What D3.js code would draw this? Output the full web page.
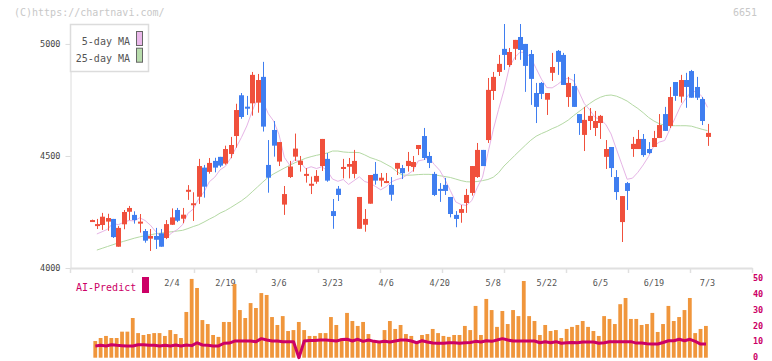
<!DOCTYPE html>
<html>
<head>
<meta charset="utf-8">
<script src="https://cdn.jsdelivr.net/npm/d3@7"></script>
<style>
body { margin: 0; background: #fff; }
svg { display: block; font-family: "DejaVu Sans Mono", monospace; }
</style>
</head>
<body>
<script>
// daily candles, oldest first
var opens = [4211,4189,4192,4207,4219,4095,4195,4251,4237,4198,
  4165,4131,4143,4155,4134,4193,4259,4220,4345,4283,
  4318,4448,4429,4478,4496,4466,4509,4589,4771,4720,
  4735,4738,4853,4460,4616,4475,4283,4406,4497,4460,
  4412,4367,4385,4455,4487,4254,4354,4442,4452,4420,
  4175,4193,4287,4420,4390,4381,4371,4443,4446,4455,
  4451,4531,4589,4500,4420,4353,4371,4317,4237,4246,
  4290,4335,4406,4527,4571,4790,4875,4978,4906,4978,
  5031,5000,4955,4781,4826,4751,4871,4969,4951,4763,
  4812,4687,4594,4656,4625,4647,4496,4540,4406,4205,
  4379,4531,4531,4576,4531,4540,4580,4687,4634,4830,
  4765,4839,4879,4808,4754,4585];
var highs = [4216,4219,4246,4242,4219,4187,4259,4277,4253,4241,
  4174,4174,4179,4174,4214,4266,4268,4268,4370,4338,
  4487,4460,4491,4492,4496,4546,4585,4733,4781,4768,
  4875,4866,4920,4571,4656,4562,4366,4478,4600,4500,
  4446,4408,4437,4576,4513,4308,4366,4487,4491,4527,
  4317,4263,4415,4473,4424,4424,4406,4469,4460,4518,
  4500,4549,4625,4518,4429,4379,4402,4317,4254,4281,
  4353,4455,4558,4527,4848,4875,4951,5089,4982,5018,
  5089,5000,4973,4826,4830,4781,4960,4973,4960,4853,
  4866,4687,4719,4714,4701,4683,4571,4540,4437,4321,
  4384,4585,4616,4598,4562,4612,4687,4719,4808,4830,
  4862,4871,4884,4853,4763,4643];
var lows = [4210,4174,4170,4166,4134,4095,4173,4214,4198,4158,
  4113,4076,4085,4095,4129,4192,4205,4200,4304,4210,
  4286,4314,4421,4427,4450,4461,4490,4537,4666,4683,
  4680,4693,4609,4336,4497,4455,4237,4402,4478,4430,
  4381,4330,4376,4433,4385,4175,4299,4400,4400,4400,
  4175,4162,4287,4372,4363,4379,4300,4415,4397,4430,
  4430,4504,4482,4446,4321,4295,4326,4226,4182,4202,
  4246,4323,4402,4455,4558,4750,4857,4884,4897,4929,
  4929,4786,4728,4647,4754,4683,4835,4862,4817,4719,
  4719,4594,4522,4616,4589,4576,4442,4406,4304,4116,
  4259,4496,4531,4496,4509,4540,4580,4612,4625,4746,
  4738,4715,4760,4750,4638,4545];
var closes = [4214,4196,4229,4223,4138,4179,4250,4268,4214,4207,
  4122,4143,4126,4095,4196,4226,4211,4238,4349,4289,
  4455,4363,4469,4448,4457,4531,4549,4705,4674,4711,
  4862,4839,4631,4403,4546,4562,4330,4453,4533,4479,
  4420,4376,4411,4576,4390,4232,4326,4451,4464,4478,
  4317,4219,4415,4390,4403,4388,4327,4469,4423,4478,
  4473,4549,4491,4469,4326,4347,4344,4241,4219,4263,
  4326,4455,4527,4455,4795,4853,4911,4951,4964,5018,
  4973,4902,4844,4719,4777,4781,4897,4920,4817,4826,
  4719,4647,4661,4679,4656,4679,4531,4446,4339,4321,
  4344,4554,4576,4504,4513,4580,4638,4612,4763,4768,
  4839,4808,4760,4760,4656,4603];

// moving averages as drawn
var ma5 = [null,4152,4162,4173,4200,4193,4204,4212,4210,4224,
  4212,4191,4162,4139,4136,4157,4171,4193,4244,4263,
  4308,4339,4385,4405,4438,4454,4491,4538,4583,4634,
  4700,4758,4743,4689,4656,4596,4494,4459,4485,4471,
  4443,4452,4444,4452,4435,4397,4387,4395,4373,4390,
  4407,4386,4379,4364,4349,4363,4385,4395,4402,4417,
  4434,4478,4483,4492,4462,4436,4395,4345,4295,4283,
  4279,4301,4358,4405,4512,4617,4708,4793,4895,4939,
  4963,4962,4940,4891,4843,4805,4804,4819,4838,4848,
  4836,4786,4734,4706,4672,4664,4641,4598,4530,4463,
  4396,4401,4427,4460,4498,4545,4562,4569,4621,4672,
  4724,4758,4788,4787,4765,4717];
var ma25 = [null,4080,4088,4096,4104,4112,4119,4126,4133,4139,
  4144,4148,4153,4156,4159,4162,4165,4168,4176,4185,
  4193,4205,4218,4230,4245,4256,4270,4285,4300,4318,
  4340,4362,4384,4405,4420,4433,4446,4458,4470,4480,
  4490,4497,4503,4508,4513,4522,4522,4518,4516,4516,
  4515,4505,4493,4485,4476,4463,4450,4430,4415,4414,
  4415,4417,4418,4418,4416,4412,4408,4404,4397,4390,
  4385,4384,4386,4390,4395,4405,4425,4455,4478,4502,
  4525,4548,4570,4588,4600,4610,4622,4632,4645,4660,
  4680,4698,4716,4734,4750,4762,4770,4772,4767,4757,
  4745,4728,4712,4693,4672,4656,4644,4637,4635,4635,
  4635,4635,4633,4626,4619,4613];

// lower panel
var volume = [null,10.5,12.4,13.7,12.4,12.4,16.4,16.4,25,15.5,
  14.3,14.9,15.5,15.5,13.7,17.4,14.9,12.4,28.8,49.6,
  43.9,23.7,21.2,14.3,13.1,22.5,22.5,46.4,30,25,
  34.4,31.3,40.7,39.5,25.6,20.6,26.2,16.8,17.4,22.5,
  17.4,13.7,13.7,15.5,15.5,25.6,20.6,12.4,28.2,23.1,
  20,22.5,14.9,10.5,10.5,17.4,23.1,18.1,20.6,14.9,
  13.7,9.2,14.3,14.9,18.1,15.5,13.7,13.1,14.3,14.3,
  20,17.4,32.6,14.3,37,30,19.4,29.4,21.2,30,
  26.2,48.3,26.2,23.1,14.3,20.6,16.8,17.4,12.4,18.1,
  19.4,20.6,23.1,19.4,16.8,13.7,26.2,24.4,21.2,33.7,
  37.6,24.4,24.4,20.6,21.2,28.2,16.2,21.2,32.6,23.1,
  25.6,30,37.6,15.5,18.1,20];
var aiPredict = [null,7.4,7.8,7.4,8.2,7.8,7.6,7.4,7.4,8.2,
  8.2,7.8,7.8,7.4,7.8,7.4,8.0,7.4,8.0,7.6,
  9.4,8.0,7.8,7.4,7.4,9.1,9.2,10.5,10.5,10.5,
  10.5,10.1,12.0,11.1,10.5,10.5,10.1,10.1,10.1,0,
  10.5,10.9,10.9,11.1,11.1,10.9,10.5,11.4,11.6,10.5,
  11.6,10.3,11.1,10.3,9.9,10.3,9.9,10.5,11.1,11.1,
  10.5,9.4,10.7,9.9,9.2,9.1,9.1,9.4,9.4,9.1,
  9.4,9.6,10.3,9.9,10.7,10.3,11.1,12.0,11.1,10.5,
  10.5,10.5,10.5,10.5,9.4,10.1,9.4,10.1,9.1,9.4,
  9.6,9.4,9.9,9.9,9.9,9.1,9.4,10.1,10.1,10.1,
  10.1,10.1,9.2,9.2,8.8,8.6,8.6,9.6,10.7,10.7,
  11.6,10.7,11.6,10.3,8.6,8.6];

// date labels and the candle they sit under
var dateLabels = ["2/4","2/19","3/6","3/23","4/6","4/20","5/8","5/22","6/5","6/19","7/3"];
var dateIndex = [15,25,35,45,55,65,75,85,95,105,115];
var priceTicks = [4000,4500,5000];
var volTicks = [0,10,20,30,40,50];

var width = 772, height = 361;
var red = "#f0503c", blue = "#3f7ef0";

var svg = d3.select("body").append("svg")
  .attr("width", width)
  .attr("height", height);

var x = d3.scaleLinear().domain([0, closes.length - 1]).range([91.5, 707.5]);
var y = d3.scaleLinear().domain([4000, d3.max(highs)]).range([268, 24]);
var frame = d3.scaleLinear().domain([0, 11]).range([70, 752]);
var v = d3.scaleLinear().domain([0, 50]).range([357.7, 278.3]);

// watermark + code
svg.append("text").attr("x", 14).attr("y", 16)
  .attr("font-size", 10).attr("fill", "#c8c8c8")
  .text("(C)https://chartnavi.com/");
svg.append("text").attr("x", 757).attr("y", 16)
  .attr("font-size", 10).attr("fill", "#c8c8c8").attr("text-anchor", "end")
  .text("6651");

// price axis
var yAxis = svg.append("g")
  .attr("transform", "translate(70.5,0)")
  .call(d3.axisLeft(y).tickValues(priceTicks).tickFormat(d3.format("d"))
    .tickSizeInner(5).tickSizeOuter(0).tickPadding(5));
yAxis.select(".domain").attr("stroke", "#dcdcdc");
yAxis.selectAll(".tick line").attr("stroke", "#dcdcdc");
yAxis.selectAll(".tick text").attr("font-family", "DejaVu Sans Mono").attr("font-size", 8.5).attr("fill", "#444");

// bottom axis (ticks only)
var xAxis = svg.append("g")
  .attr("transform", "translate(0,268)")
  .call(d3.axisBottom(frame).tickValues(d3.range(12)).tickSizeInner(5).tickSizeOuter(0).tickFormat(""));
xAxis.select(".domain").attr("stroke", "#e0e0e0").attr("stroke-width", 2);
xAxis.selectAll(".tick line").attr("stroke", "#e0e0e0").attr("stroke-width", 1.5);

// date labels
svg.append("g").selectAll("text")
  .data(dateLabels).enter().append("text")
  .attr("x", function(d, i) { return x(dateIndex[i]); })
  .attr("y", 286)
  .attr("text-anchor", "middle")
  .attr("font-size", 8.5).attr("fill", "#555")
  .text(function(d) { return d; });

// moving averages
function maLine(arr, color) {
  var line = d3.line()
    .defined(function(d) { return d != null; })
    .x(function(d, i) { return x(i); })
    .y(function(d) { return y(d); });
  svg.append("path").datum(arr)
    .attr("fill", "none").attr("stroke", color).attr("stroke-width", 1)
    .attr("d", line);
}
maLine(ma25, "#b4d9a4");
maLine(ma5, "#e6b4e6");

// candles
var idx = d3.range(closes.length);
var candles = svg.append("g").selectAll("g").data(idx).enter().append("g");
candles.append("line")
  .attr("x1", function(i) { return Math.round(x(i)) + 0.5; })
  .attr("x2", function(i) { return Math.round(x(i)) + 0.5; })
  .attr("y1", function(i) { return y(highs[i]); })
  .attr("y2", function(i) { return y(lows[i]); })
  .attr("stroke", function(i) { return closes[i] >= opens[i] ? red : blue; })
  .attr("stroke-width", 1);
candles.append("rect")
  .attr("x", function(i) { return Math.round(x(i)) - 2; })
  .attr("width", 5)
  .attr("y", function(i) { return Math.min(y(opens[i]), y(closes[i])); })
  .attr("height", function(i) { return Math.max(2, Math.abs(y(opens[i]) - y(closes[i]))); })
  .attr("fill", function(i) { return closes[i] >= opens[i] ? red : blue; });

// legend
var legend = svg.append("g");
legend.append("rect").attr("x", 70.5).attr("y", 24.5).attr("width", 78).attr("height", 47)
  .attr("fill", "#fff").attr("stroke", "#dcdcdc").attr("stroke-width", 1.5);
var legendItems = [["5-day MA", "#eab8ea"], ["25-day MA", "#b8dcac"]];
legendItems.forEach(function(item, k) {
  legend.append("text").attr("x", 130).attr("y", 45 + k * 16.7)
    .attr("text-anchor", "end").attr("font-size", 10).attr("fill", "#555")
    .text(item[0]);
  legend.append("rect").attr("x", 136.5).attr("y", 31.5 + k * 16.7)
    .attr("width", 6).attr("height", 14)
    .attr("fill", item[1]).attr("stroke", "#666").attr("stroke-width", 1);
});

// volume bars
svg.append("g").selectAll("rect")
  .data(idx.filter(function(i) { return volume[i] != null; }))
  .enter().append("rect")
  .attr("x", function(i) { return x(i) - 3.5; })
  .attr("width", 3.8)
  .attr("y", function(i) { return v(volume[i]); })
  .attr("height", function(i) { return v(0) - v(volume[i]); })
  .attr("fill", "#f0963c");

// AI-Predict line
var aiLine = d3.line()
  .defined(function(d) { return d != null; })
  .x(function(d, i) { return x(i) - 1.5; })
  .y(function(d) { return v(d); });
svg.append("path").datum(aiPredict)
  .attr("fill", "none").attr("stroke", "#cc0066").attr("stroke-width", 3)
  .attr("stroke-linejoin", "round")
  .attr("d", aiLine);

// right axis of lower panel
var vAxis = svg.append("g")
  .attr("transform", "translate(752,0)")
  .call(d3.axisRight(v).tickValues(volTicks).tickSize(0).tickPadding(1));
vAxis.select(".domain").remove();
vAxis.selectAll(".tick text").attr("font-family", "DejaVu Sans Mono")
  .attr("font-size", 8.5).attr("font-weight", "bold").attr("fill", "#cc0066")
  .attr("dy", "0.25em");

// AI-Predict label
svg.append("text").attr("x", 76).attr("y", 291)
  .attr("font-size", 10).attr("fill", "#cc0066").text("AI-Predict");
svg.append("rect").attr("x", 142).attr("y", 277).attr("width", 7).attr("height", 16)
  .attr("fill", "#cc0066");
</script>
</body>
</html>
